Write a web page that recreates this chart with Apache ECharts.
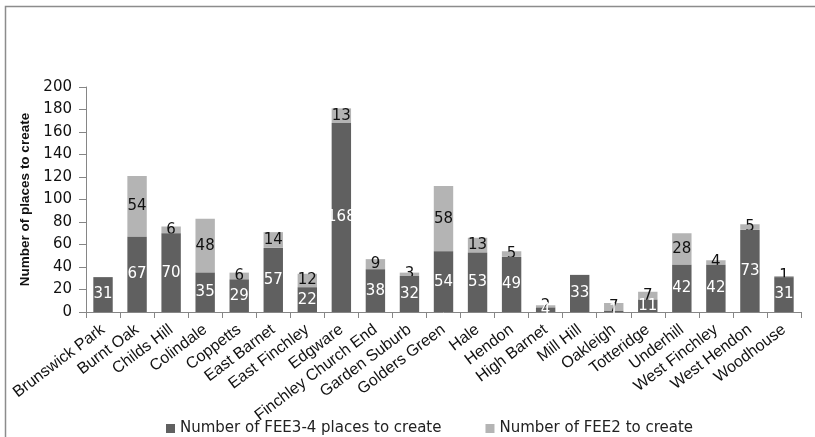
<!DOCTYPE html>
<html><head><meta charset="utf-8">
<script src="https://cdn.jsdelivr.net/npm/echarts@6/dist/echarts.min.js"></script>
<style>html,body{margin:0;padding:0;background:#fff}#c{width:815px;height:437px}</style>
</head><body><div id="c"></div>
<script>
const categories = ["Brunswick Park","Burnt Oak","Childs Hill","Colindale","Coppetts","East Barnet","East Finchley","Edgware","Finchley Church End","Garden Suburb","Golders Green","Hale","Hendon","High Barnet","Mill Hill","Oakleigh","Totteridge","Underhill","West Finchley","West Hendon","Woodhouse"];
const fee34 = [31,67,70,35,29,57,22,168,38,32,54,53,49,4,33,1,11,42,42,73,31];
const fee2 = [0,54,6,48,6,14,12,13,9,3,58,13,5,2,0,7,7,28,4,5,1];
const yTicks = {min:0, max:200, interval:20};
const seriesNames = ["Number of FEE3-4 places to create","Number of FEE2 to create"];

const chart = echarts.init(document.getElementById('c'));
chart.setOption({
  animation:false,
  graphic:[{type:'polyline',shape:{points:[[5.5,437],[5.5,6.5],[815,6.5]]},style:{stroke:'#8c8c8c',lineWidth:1.5,fill:null},silent:true}],
  grid:{left:86,right:14,top:87,bottom:125},
  legend:{bottom:-4,left:161,itemWidth:9,itemHeight:9,itemGap:44,icon:'rect',
    textStyle:{fontFamily:'DejaVu Sans',fontSize:15,color:'#222'}},
  xAxis:{type:'category',data:categories,
    axisLine:{lineStyle:{color:'#868686'}},
    axisTick:{show:true,length:6,lineStyle:{color:'#868686'}},
    axisLabel:{rotate:37,interval:0,margin:16,fontFamily:'Liberation Sans',fontSize:16,color:'#111'}},
  yAxis:{type:'value',min:yTicks.min,max:yTicks.max,interval:yTicks.interval,
    name:'Number of places to create',nameLocation:'middle',nameGap:52,
    nameTextStyle:{fontFamily:'Liberation Sans',fontWeight:'bold',fontSize:13.5,color:'#111'},
    axisLine:{show:true,lineStyle:{color:'#868686'}},
    axisTick:{show:true,length:7,lineStyle:{color:'#868686'}},
    splitLine:{show:false},
    axisLabel:{fontFamily:'DejaVu Sans',fontSize:15,color:'#111',margin:14}},
  series:[
    {name:seriesNames[0],type:'bar',stack:'t',data:fee34,barCategoryGap:'43%',z:3,
     itemStyle:{color:'#606060'},
     label:{show:true,position:'inside',color:'#fff',fontFamily:'DejaVu Sans',fontSize:15,
       formatter:p=>p.value>0?p.value:''}},
    {name:seriesNames[1],type:'bar',stack:'t',data:fee2,z:2,
     itemStyle:{color:'#b4b4b4'},
     label:{show:true,position:'inside',color:'#111',fontFamily:'DejaVu Sans',fontSize:15,
       formatter:p=>p.value>0?p.value:''}}
  ]
});
</script></body></html>
